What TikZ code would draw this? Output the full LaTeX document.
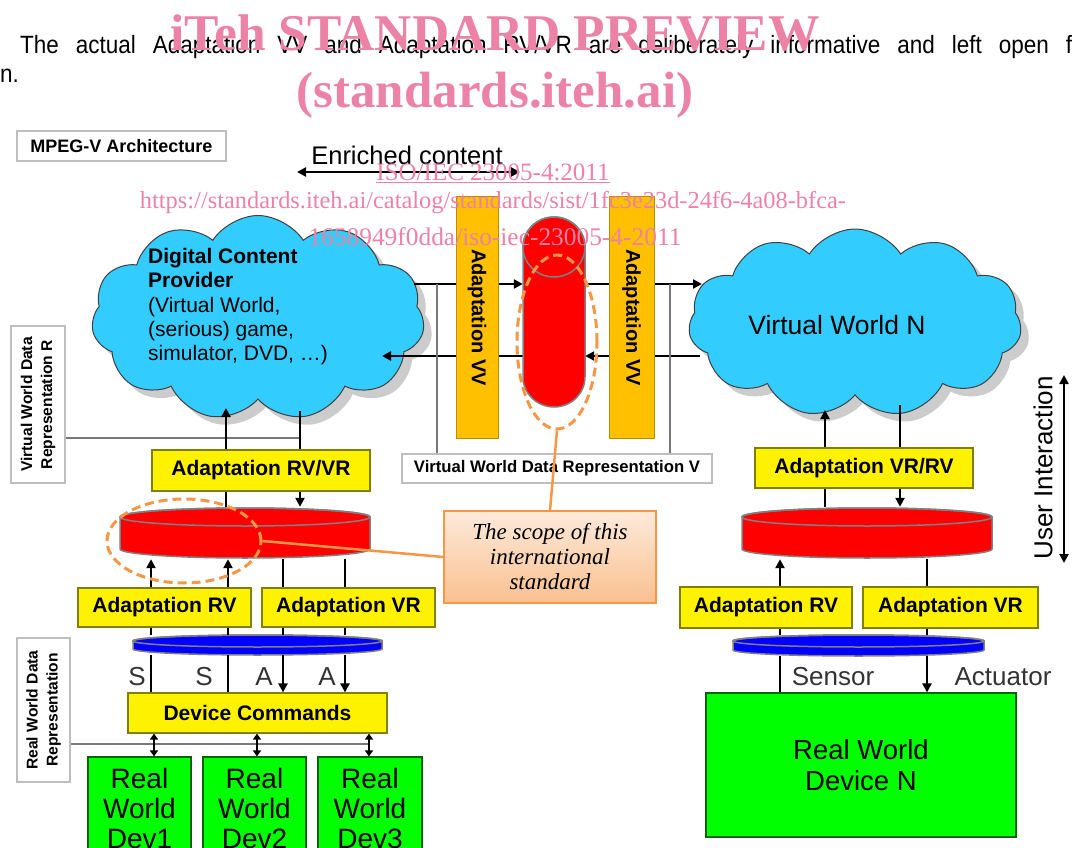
\documentclass[tikz,border=0pt]{standalone}
\usepackage{fontspec}
\setmainfont{Liberation Sans}
\newfontfamily\tnr{Liberation Serif}
\newfontfamily\narrowfont[FakeStretch=0.9]{Liberation Sans}
\usetikzlibrary{arrows.meta,shapes.symbols,shapes.geometric,shadows}
\definecolor{cloudblue}{RGB}{51,204,255}
\definecolor{vvorange}{RGB}{255,192,0}
\definecolor{vvborder}{RGB}{190,140,0}
\definecolor{ybord}{RGB}{128,128,0}
\definecolor{scopeor}{RGB}{247,150,70}
\definecolor{wmpink}{RGB}{236,130,165}
\definecolor{rwgreen}{RGB}{0,255,0}
\definecolor{rwborder}{RGB}{0,100,0}
\definecolor{calltop}{RGB}{253,234,218}
\definecolor{callbot}{RGB}{250,192,144}
\definecolor{lblgray}{RGB}{190,190,190}
\definecolor{linegray}{RGB}{120,120,120}
\definecolor{diskgray}{RGB}{128,128,128}
\definecolor{diskred}{RGB}{255,0,0}
\definecolor{diskblue}{RGB}{0,0,255}
\begin{document}
\begin{tikzpicture}[x=1pt,y=-1pt,
 ybox/.style={draw=ybord, fill=yellow, line width=1.2pt, inner sep=0pt, font=\bfseries\fontsize{21}{24}\selectfont},
 vvbar/.style={draw=vvborder, fill=vvorange, line width=1pt, inner sep=0pt, rotate=-90, font=\bfseries\fontsize{20}{23}\selectfont},
 lblbox/.style={draw=lblgray, fill=white, line width=1.5pt, inner sep=0pt, font=\bfseries\fontsize{16.7}{20}\selectfont},
 greenbox/.style={draw=rwborder, fill=rwgreen, line width=1.2pt, inner sep=0pt, align=center},
 flow/.style={line width=2.8pt, black},
 arrowend/.style={-{Triangle[length=9pt,width=9pt]}},
 dblarrow/.style={{Triangle[length=9pt,width=9pt]}-{Triangle[length=9pt,width=9pt]}},
 smalldbl/.style={line width=2pt, {Triangle[length=6pt,width=8pt]}-{Triangle[length=6pt,width=8pt]}},
 grayline/.style={line width=1.3pt, linegray},
 scopedash/.style={draw=scopeor, line width=3pt, dash pattern=on 9pt off 5pt, ellipse, inner sep=0pt},
 scopeline/.style={scopeor, line width=2.5pt},
 diskline/.style={draw=diskgray, line width=1.5pt},
 cloudshape/.style={cloud, cloud puffs=11, cloud puff arc=115, cloud ignores aspect, draw=black!75, fill=cloudblue, line width=1pt, inner sep=0pt, drop shadow={shadow xshift=8pt, shadow yshift=-8pt, fill=black!40}},
 wm/.style={text=wmpink, inner sep=0pt},
 txt/.style={inner sep=0pt},
 biglabel/.style={inner sep=0pt, text=black!80, font=\fontsize{26}{30}\selectfont}
]
\useasboundingbox (0,0) rectangle (1072,848);

% intro text
\node[txt, anchor=base west, font=\narrowfont\fontsize{25}{28}\selectfont] (intro1) at (20,54) {\makebox[1052pt][s]{The actual Adaptation VV and Adaptation RV/VR are deliberately informative and left open f}};
\node[txt, anchor=base west, font=\narrowfont\fontsize{25}{28}\selectfont] (intro2) at (0,83) {n.};

% title box
\node[lblbox, minimum width=209, minimum height=30, font=\bfseries\fontsize{18}{21}\selectfont] (mpeg) at (121.5,146) {MPEG-V Architecture};

% enriched content
\node[txt, font=\fontsize{25.5}{28}\selectfont] (enr) at (407,155) {Enriched content};
\coordinate (ecL) at (297,172);
\coordinate (ecR) at (520,172);
\draw[flow, dblarrow] (ecL) -- (ecR);

% clouds
\node[cloudshape, minimum width=333, minimum height=205] (dcp) at (258,318) {};
\node[txt, anchor=north west, align=left, font=\fontsize{21}{24.3}\selectfont] (dcptext) at (148,248) {\textbf{Digital Content}\\\textbf{Provider}\\(Virtual World,\\(serious) game,\\simulator, DVD, \dots)};
\node[cloudshape, minimum width=333, minimum height=188] (vwn) at (855,323) {};
\node[txt, font=\fontsize{26.5}{30}\selectfont] (vwntext) at (837,325) {Virtual World N};

% data representation V box
\node[lblbox, minimum width=310, minimum height=29] (vwdrV) at (557,468.5) {Virtual World Data Representation V};

% capsule placeholder
\node[txt, minimum width=62, minimum height=190] (caps) at (554,312) {};

% horizontal flows
\coordinate (dcpU) at (414,284);
\coordinate (vwnU) at (702,284);
\coordinate (vwnD) at (700,356);
\coordinate (dcpD) at (382,356);
\draw[flow, arrowend] (dcpU) -- (caps.west |- dcpU);
\draw[flow, arrowend] (caps.east |- dcpU) -- (vwnU);
\draw[flow, arrowend] (vwnD) -- (caps.east |- vwnD);
\draw[flow, arrowend] (caps.west |- vwnD) -- (dcpD);

% thin gray verticals
\coordinate (g1) at (437,284);
\coordinate (g2) at (670,284);
\draw[grayline] (g1) -- (g1 |- vwdrV.north);
\draw[grayline] (g2) -- (g2 |- vwdrV.north);

% adaptation VV bars
\node[vvbar, minimum width=241, minimum height=42] (vv1) at (477,317.5) {Adaptation VV};
\node[vvbar, minimum width=241, minimum height=45] (vv2) at (631.5,317.5) {Adaptation VV};

% capsule
\filldraw[fill=diskred, diskline] (523,247) -- (523,377) arc[start angle=180,end angle=360,x radius=31pt,y radius=30pt] -- (585,247) arc[start angle=0,end angle=180,x radius=31pt,y radius=30pt] -- cycle;
\draw[diskline] (554,247) ellipse[x radius=31pt,y radius=30pt];

% left labels
\node[lblbox, rotate=90, minimum width=157, minimum height=54, align=center, font=\bfseries\fontsize{15.6}{20}\selectfont] (vwdrR) at (38,404.5) {Virtual World Data\\Representation R};
\node[lblbox, rotate=90, minimum width=144, minimum height=53, align=center, font=\bfseries\fontsize{15.6}{20}\selectfont] (rwdr) at (43.5,710) {Real World Data\\Representation};
\coordinate (rlineEnd) at (300,438);
\draw[grayline] (vwdrR.south |- rlineEnd) -- (rlineEnd);
\coordinate (rwlineEnd) at (370,744);
\draw[grayline] (rwdr.south |- rwlineEnd) -- (rwlineEnd);

% ---------- left column ----------
\node[ybox, minimum width=218, minimum height=41] (rvvrL) at (261,470.5) {Adaptation RV/VR};
\node[txt, minimum width=250, minimum height=52] (diskL) at (245,533) {};
\filldraw[fill=diskred, diskline] (120,517) -- (120,549) arc[start angle=180,end angle=360,x radius=125pt,y radius=9pt] -- (370,517) arc[start angle=0,end angle=180,x radius=125pt,y radius=9pt] -- cycle;
\draw[diskline] (245,517) ellipse[x radius=125pt,y radius=9pt];
\node[ybox, minimum width=173, minimum height=39] (rvL) at (164.5,607.5) {Adaptation RV};
\node[ybox, minimum width=173, minimum height=39] (vrL) at (348.5,607.5) {Adaptation VR};
\node[txt, minimum width=249, minimum height=20] (blueL) at (257.5,645) {};
\filldraw[fill=diskblue, diskline] (133,641) -- (133,649) arc[start angle=180,end angle=360,x radius=124.5pt,y radius=6pt] -- (382,641) arc[start angle=0,end angle=180,x radius=124.5pt,y radius=6pt] -- cycle;
\draw[diskline] (257.5,641) ellipse[x radius=124.5pt,y radius=6pt];
\node[ybox, minimum width=259, minimum height=40] (dc) at (257.5,713) {Device Commands};
\node[greenbox, minimum width=103, minimum height=102, font=\fontsize{28}{30}\selectfont] (dev1) at (139.5,808) {Real\\World\\Dev1};
\node[greenbox, minimum width=103, minimum height=102, font=\fontsize{28}{30}\selectfont] (dev2) at (254.5,808) {Real\\World\\Dev2};
\node[greenbox, minimum width=104, minimum height=102, font=\fontsize{28}{30}\selectfont] (dev3) at (370,808) {Real\\World\\Dev3};

\coordinate (xA) at (226,408);
\coordinate (xB) at (300,411);
\draw[flow, arrowend] (rvvrL.north -| xA) -- (xA);
\draw[flow] (xB) -- (rvvrL.north -| xB);
\draw[flow] (diskL.north -| xA) -- (rvvrL.south -| xA);
\draw[flow, arrowend] (rvvrL.south -| xB) -- (diskL.north -| xB);

\coordinate (xC) at (151,0);
\coordinate (xD) at (228,0);
\coordinate (xE) at (283,0);
\coordinate (xF) at (345,0);
\draw[flow, arrowend] (rvL.north -| xC) -- (diskL.south -| xC);
\draw[flow, arrowend] (rvL.north -| xD) -- (diskL.south -| xD);
\draw[flow] (diskL.south -| xE) -- (vrL.north -| xE);
\draw[flow] (diskL.south -| xF) -- (vrL.north -| xF);
\draw[flow] (rvL.south -| xC) -- (blueL.north -| xC);
\draw[flow] (rvL.south -| xD) -- (blueL.north -| xD);
\draw[flow] (vrL.south -| xE) -- (blueL.north -| xE);
\draw[flow] (vrL.south -| xF) -- (blueL.north -| xF);
\draw[flow] (blueL.south -| xC) -- (dc.north -| xC);
\draw[flow] (blueL.south -| xD) -- (dc.north -| xD);
\draw[flow, arrowend] (blueL.south -| xE) -- (dc.north -| xE);
\draw[flow, arrowend] (blueL.south -| xF) -- (dc.north -| xF);

\coordinate (xG) at (154,0);
\coordinate (xH) at (257,0);
\coordinate (xI) at (369,0);
\draw[smalldbl] (dc.south -| xG) -- (dev1.north -| xG);
\draw[smalldbl] (dc.south -| xH) -- (dev2.north -| xH);
\draw[smalldbl] (dc.south -| xI) -- (dev3.north -| xI);

\node[biglabel] (s1) at (137,677) {S};
\node[biglabel] (s2) at (204,677) {S};
\node[biglabel] (a1) at (264,677) {A};
\node[biglabel] (a2) at (327,677) {A};

% ---------- right column ----------
\node[ybox, minimum width=218, minimum height=40] (vrrvR) at (864,468) {Adaptation VR/RV};
\node[txt, minimum width=250, minimum height=52] (diskR) at (867,533) {};
\filldraw[fill=diskred, diskline] (742,517) -- (742,549) arc[start angle=180,end angle=360,x radius=125pt,y radius=9pt] -- (992,517) arc[start angle=0,end angle=180,x radius=125pt,y radius=9pt] -- cycle;
\draw[diskline] (867,517) ellipse[x radius=125pt,y radius=9pt];
\node[ybox, minimum width=172, minimum height=41] (rvR) at (766,607.5) {Adaptation RV};
\node[ybox, minimum width=175, minimum height=41] (vrR) at (950.5,607.5) {Adaptation VR};
\node[txt, minimum width=251, minimum height=21] (blueR) at (858.5,645.5) {};
\filldraw[fill=diskblue, diskline] (733,641) -- (733,650) arc[start angle=180,end angle=360,x radius=125.5pt,y radius=6pt] -- (984,641) arc[start angle=0,end angle=180,x radius=125.5pt,y radius=6pt] -- cycle;
\draw[diskline] (858.5,641) ellipse[x radius=125.5pt,y radius=6pt];
\node[greenbox, minimum width=310, minimum height=144, font=\fontsize{27.5}{31}\selectfont] (rwdn) at (861,765) {Real World\\Device N};
\node[biglabel] (sensor) at (833,677) {Sensor};
\node[biglabel] (actuator) at (1003,677) {Actuator};

\coordinate (xJ) at (825,410);
\coordinate (xK) at (900,405);
\coordinate (xL) at (780,0);
\coordinate (xM) at (927,0);
\draw[flow, arrowend] (vrrvR.north -| xJ) -- (xJ);
\draw[flow] (xK) -- (vrrvR.north -| xK);
\draw[flow] (diskR.north -| xJ) -- (vrrvR.south -| xJ);
\draw[flow, arrowend] (vrrvR.south -| xK) -- (diskR.north -| xK);
\draw[flow, arrowend] (rvR.north -| xL) -- (diskR.south -| xL);
\draw[flow] (diskR.south -| xM) -- (vrR.north -| xM);
\draw[flow] (rvR.south -| xL) -- (blueR.north -| xL);
\draw[flow] (vrR.south -| xM) -- (blueR.north -| xM);
\draw[flow] (blueR.south -| xL) -- (rwdn.north -| xL);
\draw[flow, arrowend] (blueR.south -| xM) -- (rwdn.north -| xM);

% user interaction
\node[txt, rotate=90, font=\fontsize{26}{30}\selectfont] (ui) at (1043,468) {User Interaction};
\coordinate (uiT) at (1064,375);
\coordinate (uiB) at (1064,563);
\draw[flow, dblarrow] (uiT) -- (uiB);

% scope callout
\node[draw=scopeor, line width=1.2pt, top color=calltop, bottom color=callbot, minimum width=212, minimum height=92, inner sep=0pt, align=center, font=\tnr\itshape\fontsize{23}{25}\selectfont] (callout) at (550,557) {The scope of this\\international\\standard};
\node[scopedash, minimum width=154, minimum height=84] (scL) at (184,541) {};
\node[scopedash, minimum width=80, minimum height=174] (scM) at (557,342) {};
\draw[scopeline] (scM.south) -- (callout.north);
\draw[scopeline] (scL.east) -- (callout.west);

% watermark
\node[wm, font=\tnr\bfseries\fontsize{51.5}{55}\selectfont] (wm1) at (495,33) {iTeh STANDARD PREVIEW};
\node[wm, font=\tnr\bfseries\fontsize{51}{55}\selectfont] (wm2) at (495,95) {(standards.iteh.ai)};
\node[wm, font=\tnr\fontsize{25}{28}\selectfont] (wm3) at (493,173) {\underline{ISO/IEC 23005-4:2011}};
\node[wm, font=\tnr\fontsize{24.4}{28}\selectfont] (wm4) at (493,203) {https://standards.iteh.ai/catalog/standards/sist/1fc3e23d-24f6-4a08-bfca-};
\node[wm, font=\tnr\fontsize{25.4}{28}\selectfont] (wm5) at (495,237) {1658949f0dda/iso-iec-23005-4-2011};
\end{tikzpicture}
\end{document}
